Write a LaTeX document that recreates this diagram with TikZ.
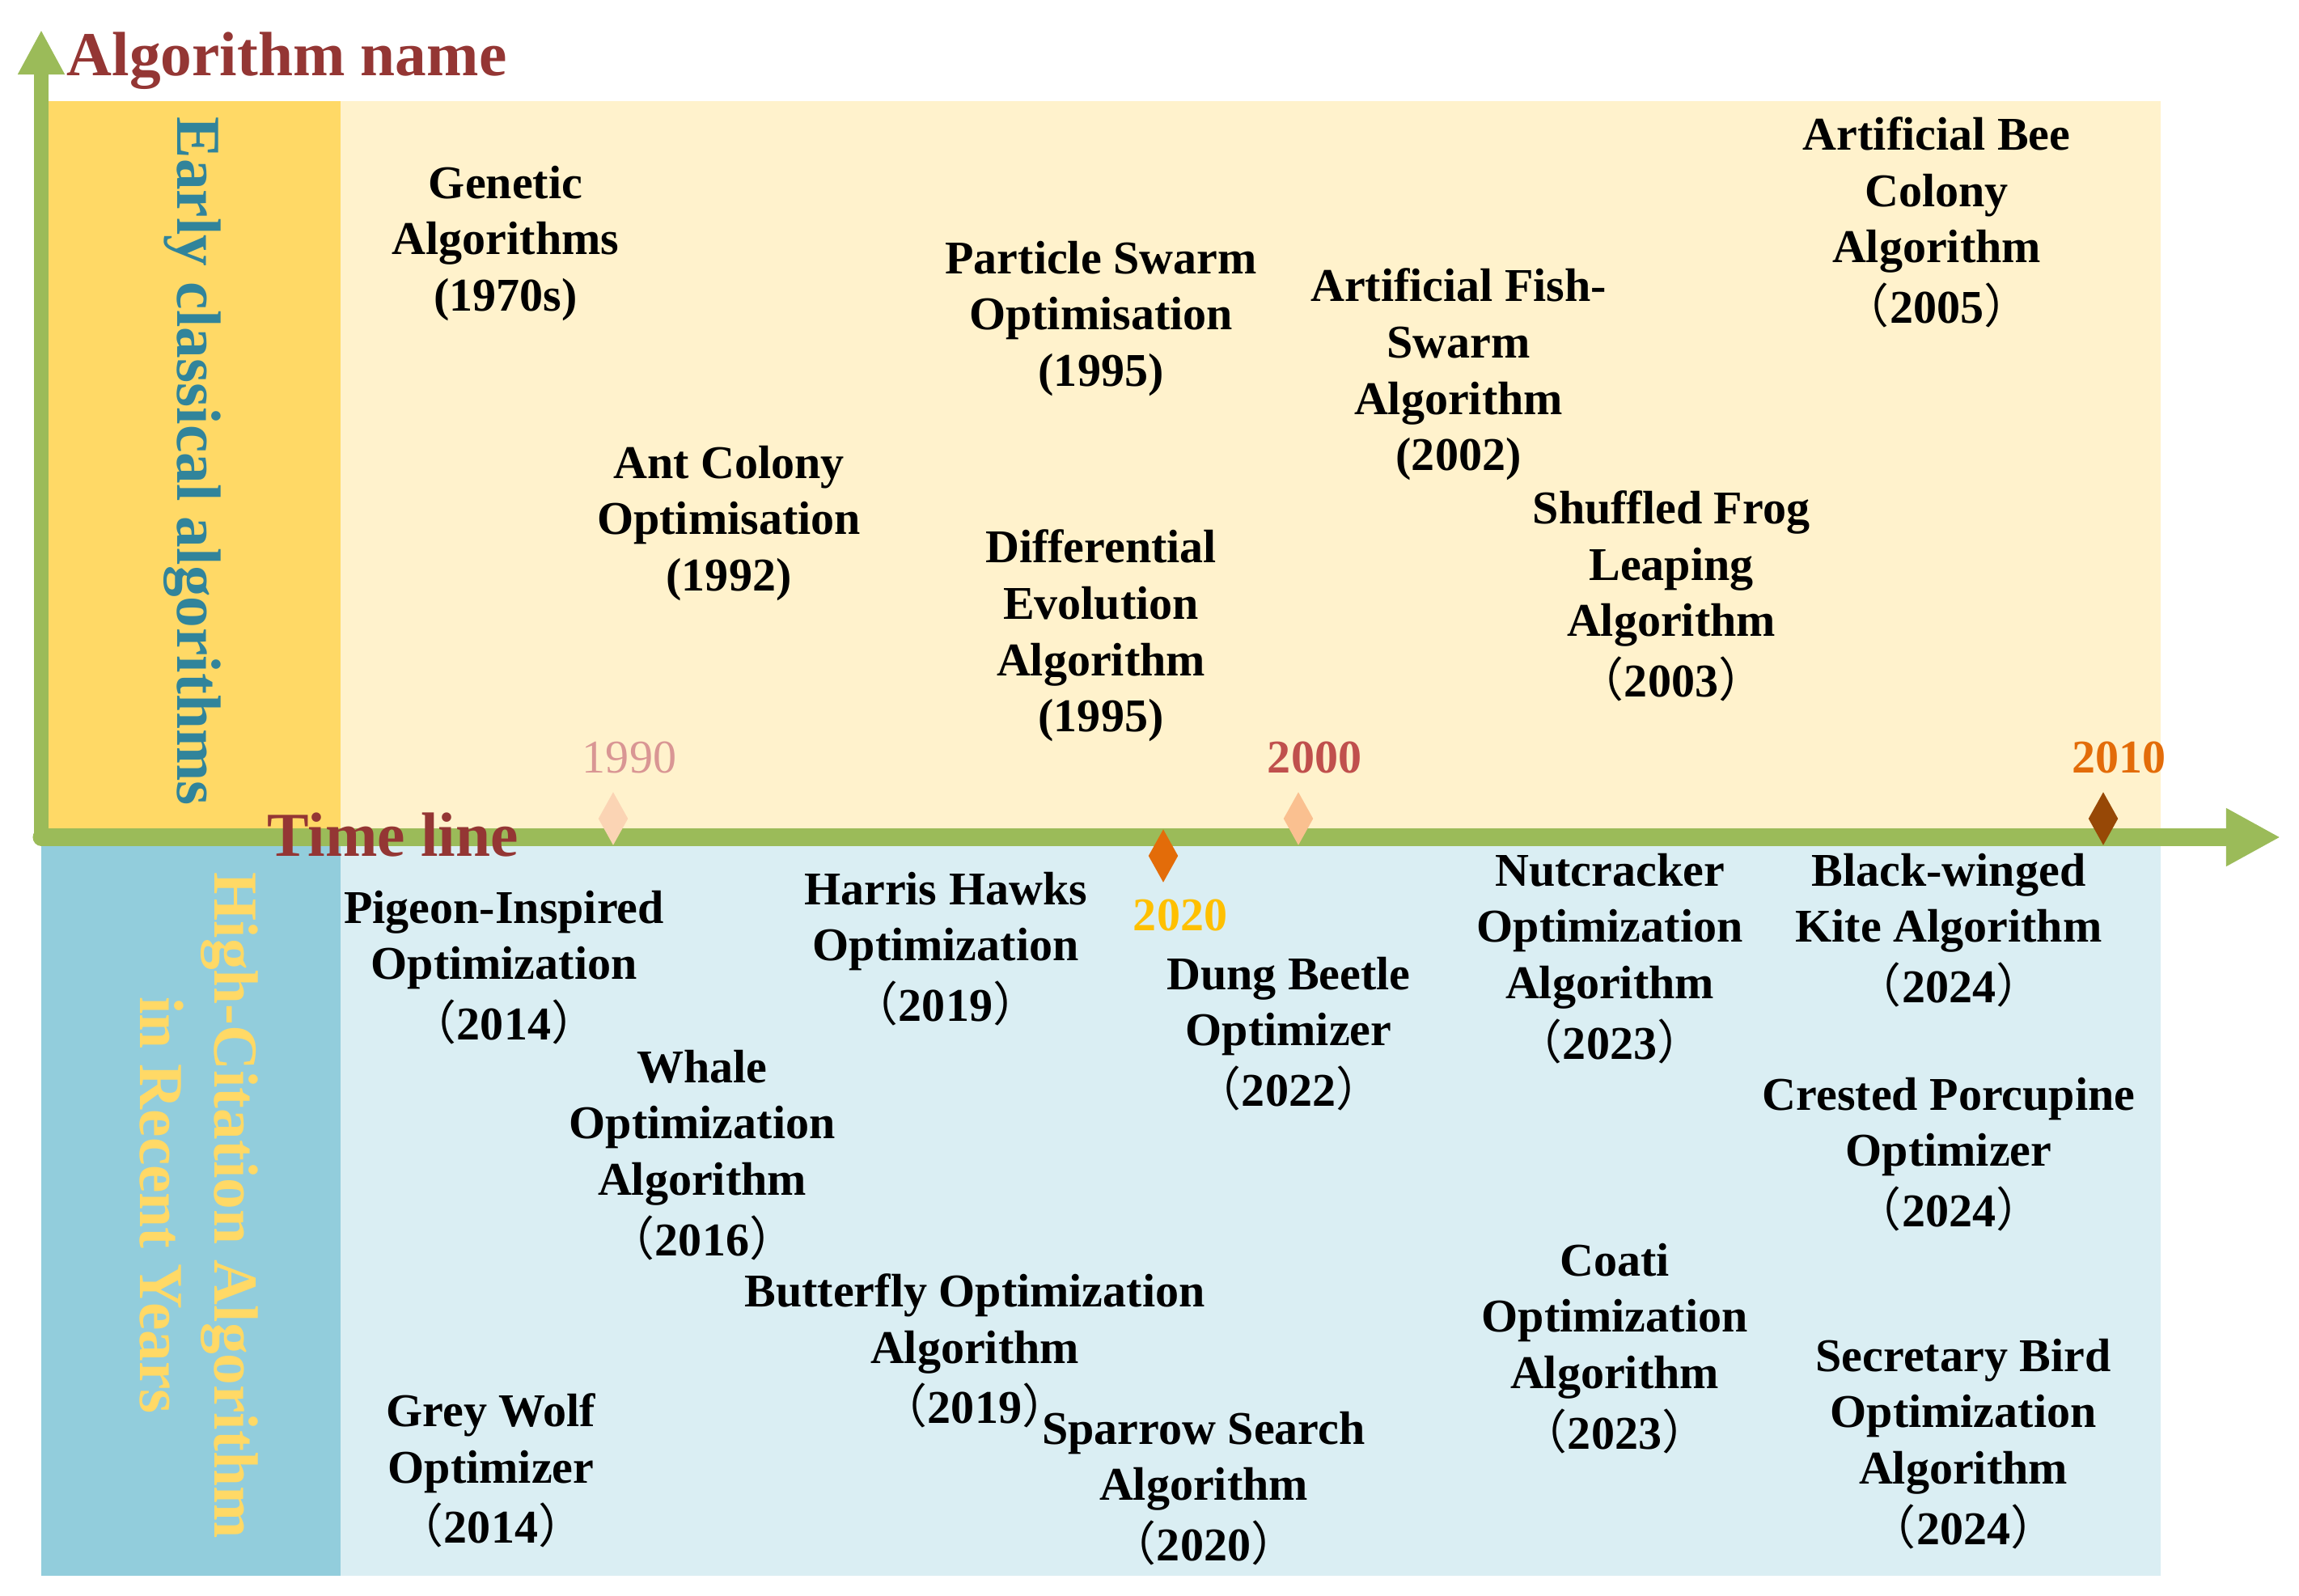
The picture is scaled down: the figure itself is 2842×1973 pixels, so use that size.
\documentclass[tikz,border=0pt]{standalone}
\usepackage{fontspec}
\setmainfont{Liberation Serif}
\newfontfamily\cjk{Noto Sans CJK SC}
\usetikzlibrary{arrows.meta,shapes.geometric}

\definecolor{axisgreen}{HTML}{9BBB59}
\definecolor{goldDark}{HTML}{FFD966}
\definecolor{goldLight}{HTML}{FFF2CC}
\definecolor{aquaDark}{HTML}{92CDDC}
\definecolor{aquaLight}{HTML}{DAEEF3}
\definecolor{titleRed}{HTML}{943634}
\definecolor{tealText}{HTML}{31849B}
\definecolor{lab1990}{HTML}{D99694}
\definecolor{dia1990}{HTML}{FBD4B4}
\definecolor{lab2000}{HTML}{C0504D}
\definecolor{dia2000}{HTML}{FAC090}
\definecolor{lab2010}{HTML}{E36C09}
\definecolor{dia2010}{HTML}{974806}
\definecolor{lab2020}{HTML}{FFC000}
\definecolor{dia2020}{HTML}{E36C09}

\newcommand{\fwp}[1]{\\[1.5pt]{\cjk\mdseries （}#1{\cjk\mdseries ）}}

\begin{document}
\begin{tikzpicture}[x=0.01cm,y=-0.01cm,
  algo/.style={font=\fontsize{16.5}{19.8}\selectfont\bfseries, align=center, inner sep=0pt},
  yearlab/.style={font=\fontsize{16.5}{19.8}\selectfont\bfseries, inner sep=0pt},
  marker/.style={diamond, draw=none, inner sep=0pt, minimum width=0.37cm, minimum height=0.66cm, aspect=0.56},
  bigtitle/.style={font=\fontsize{22}{26}\selectfont\bfseries, text=titleRed, inner sep=0pt},
  side/.style={font=\fontsize{22}{26}\selectfont\bfseries, align=center, inner sep=0pt, rotate=-90}
]
\useasboundingbox (0,0) rectangle (2842,1973);

% panels
\fill[goldLight] (51,125) rectangle (2671,1035);
\fill[goldDark] (51,125) rectangle (421,1035);
\fill[aquaLight] (51,1035) rectangle (2671,1948);
\fill[aquaDark] (51,1035) rectangle (421,1948);

% axes
\coordinate (origin) at (51,1035);
\coordinate (ytip) at (51,37);
\coordinate (xtip) at (2819,1035);
\draw[axisgreen, line width=0.17cm, -{Triangle[length=0.55cm,width=0.54cm]}] (origin) -- (ytip);
\draw[axisgreen, line width=0.21cm, line cap=round, -{Triangle[length=0.67cm,width=0.67cm]}] (origin) -- (xtip);

% titles
\node[bigtitle, anchor=base west] (ttl) at (82,94) {Algorithm name};
\node[bigtitle, anchor=base west] (tline) at (330,1058) {Time line};

% side labels
\node[side, text=tealText, anchor=base west] (early) at (219,144) {Early classical algorithms};
\node[side, text=goldDark] (recent) at (246,1490) {High-Citation Algorithm\\in Recent Years};

% markers
\node[marker, fill=dia1990] (m1990) at (758,1012) {};
\node[marker, fill=dia2000] (m2000) at (1605,1012) {};
\node[marker, fill=dia2010] (m2010) at (2600,1012) {};
\node[marker, fill=dia2020] (m2020) at (1438,1058) {};

% year labels
\node[yearlab, font=\fontsize{16.5}{19.8}\selectfont\mdseries, text=lab1990] (l1990) at (778,936) {1990};
\node[yearlab, text=lab2000] (l2000) at (1625,936) {2000};
\node[yearlab, text=lab2010] (l2010) at (2619,936) {2010};
\node[yearlab, text=lab2020] (l2020) at (1459,1131) {2020};

% early classical algorithms
\node[algo] (ga)  at (625,301)  {Genetic\\Algorithms\\(1970s)};
\node[algo] (aco) at (901,647)  {Ant Colony\\Optimisation\\(1992)};
\node[algo] (pso) at (1361,394) {Particle Swarm\\Optimisation\\(1995)};
\node[algo] (de)  at (1361,786) {Differential\\Evolution\\Algorithm\\(1995)};
\node[algo] (afs) at (1803,463) {Artificial Fish-\\Swarm\\Algorithm\\(2002)};
\node[algo] (sfl) at (2066,737) {Shuffled Frog\\Leaping\\Algorithm\fwp{2003}};
\node[algo] (abc) at (2394,275) {Artificial Bee\\Colony\\Algorithm\fwp{2005}};

% recent algorithms
\node[algo] (pio) at (623,1196)  {Pigeon-Inspired\\Optimization\fwp{2014}};
\node[algo] (woa) at (868,1428)  {Whale\\Optimization\\Algorithm\fwp{2016}};
\node[algo] (gwo) at (607,1818)  {Grey Wolf\\Optimizer\fwp{2014}};
\node[algo] (hho) at (1169,1173) {Harris Hawks\\Optimization\fwp{2019}};
\node[algo] (boa) at (1205,1670) {Butterfly Optimization\\Algorithm\fwp{2019}};
\node[algo] (ssa) at (1488,1840) {Sparrow Search\\Algorithm\fwp{2020}};
\node[algo] (dbo) at (1593,1278) {Dung Beetle\\Optimizer\fwp{2022}};
\node[algo] (noa) at (1990,1185) {Nutcracker\\Optimization\\Algorithm\fwp{2023}};
\node[algo] (coa) at (1996,1667) {Coati\\Optimization\\Algorithm\fwp{2023}};
\node[algo] (bka) at (2409,1150) {Black-winged\\Kite Algorithm\fwp{2024}};
\node[algo] (cpo) at (2409,1427) {Crested Porcupine\\Optimizer\fwp{2024}};
\node[algo] (sbo) at (2427,1785) {Secretary Bird\\Optimization\\Algorithm\fwp{2024}};
\end{tikzpicture}
\end{document}
